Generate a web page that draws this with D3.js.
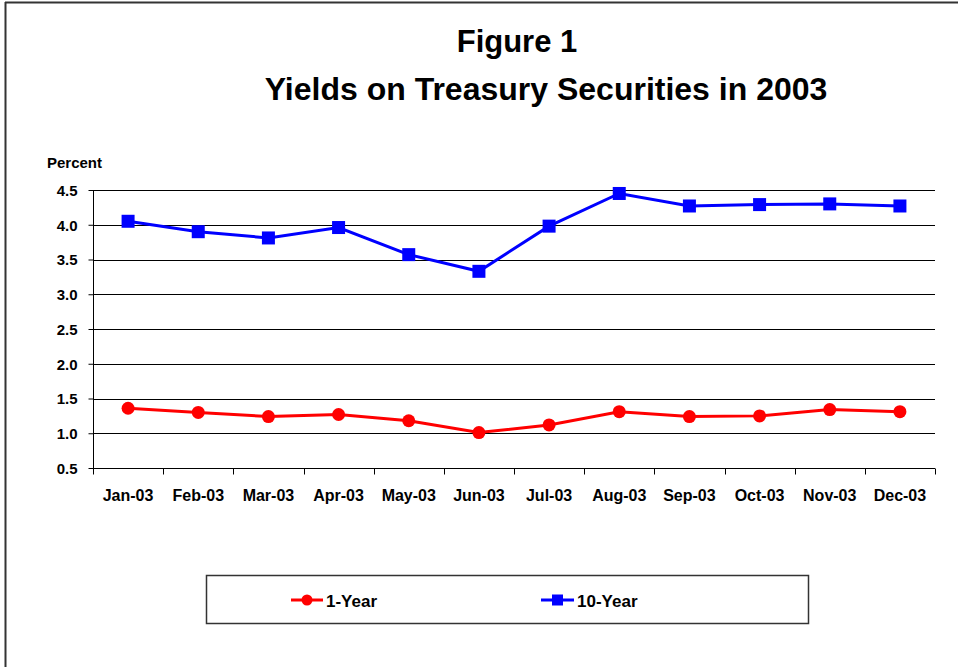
<!DOCTYPE html>
<html>
<head>
<meta charset="utf-8">
<script src="https://cdn.jsdelivr.net/npm/d3@7"></script>
<style>
  body { margin: 0; background: #fff; }
  svg text { font-family: "Liberation Sans", Arial, sans-serif; font-weight: bold; fill: #000; }
</style>
</head>
<body>
<div id="chart"></div>
<script>
// data
var months = ["Jan-03", "Feb-03", "Mar-03", "Apr-03", "May-03", "Jun-03",
              "Jul-03", "Aug-03", "Sep-03", "Oct-03", "Nov-03", "Dec-03"];
var oneYear = [1.36, 1.30, 1.24, 1.27, 1.18, 1.01, 1.12, 1.31, 1.24, 1.25, 1.34, 1.31];
var tenYear = [4.05, 3.90, 3.81, 3.96, 3.57, 3.33, 3.98, 4.45, 4.27, 4.29, 4.30, 4.27];
var yTicks = [0.5, 1.0, 1.5, 2.0, 2.5, 3.0, 3.5, 4.0, 4.5];

var W = 958, H = 667;
var svg = d3.select("#chart").append("svg").attr("width", W).attr("height", H);

// outer frame (top and left edges visible)
svg.append("line").attr("x1", 5).attr("x2", W).attr("y1", 2.5).attr("y2", 2.5)
  .attr("stroke", "#333").attr("stroke-width", 2);
svg.append("line").attr("x1", 5.5).attr("x2", 5.5).attr("y1", 2).attr("y2", H)
  .attr("stroke", "#333").attr("stroke-width", 2);

// titles
svg.append("text").attr("x", 517).attr("y", 52).attr("text-anchor", "middle")
  .style("font-size", "31px").text("Figure 1");
svg.append("text").attr("x", 546).attr("y", 100).attr("text-anchor", "middle")
  .style("font-size", "32px").text("Yields on Treasury Securities in 2003");

var pL = 93, pR = 935, pT = 190, pB = 468;

var x = d3.scaleBand().domain(months).range([pL, pR]);
var y = d3.scaleLinear().domain([0.5, 4.5]).range([pB, pT]);

// gridlines
svg.append("g").selectAll("line").data(yTicks.slice(1)).enter().append("line")
  .attr("x1", pL).attr("x2", pR)
  .attr("y1", function(d) { return Math.round(y(d)) + 0.5; })
  .attr("y2", function(d) { return Math.round(y(d)) + 0.5; })
  .attr("stroke", "#000").attr("stroke-width", 1);

// y axis
var yAxis = svg.append("g").attr("transform", "translate(" + (pL + 0.5) + ",0)")
  .call(d3.axisLeft(y).tickValues(yTicks).tickFormat(d3.format(".1f")).tickSize(5).tickPadding(6));
yAxis.select(".domain").attr("stroke", "#000").attr("d", "M0," + pT + "V" + (pB + 6));
yAxis.selectAll(".tick line").attr("stroke", "#000");
yAxis.selectAll(".tick text").style("font-size", "15px").attr("dy", "0.35em").attr("x", -16);

// x axis: ticks at band boundaries
var xg = svg.append("g").attr("transform", "translate(0," + (pB + 0.5) + ")");
xg.append("line").attr("x1", pL).attr("x2", pR).attr("stroke", "#000");
var bounds = months.map(function(m) { return x(m); }).concat([pR]);
xg.selectAll(".tk").data(bounds).enter().append("line")
  .attr("x1", function(d) { return Math.round(d) + 0.5; })
  .attr("x2", function(d) { return Math.round(d) + 0.5; })
  .attr("y1", 0).attr("y2", 6).attr("stroke", "#000");
xg.selectAll(".lbl").data(months).enter().append("text")
  .attr("x", function(d) { return x(d) + x.bandwidth() / 2; })
  .attr("y", 32).attr("text-anchor", "middle").style("font-size", "16px")
  .text(function(d) { return d; });

svg.append("text").attr("x", 47).attr("y", 168).style("font-size", "15px").text("Percent");

var cx = function(d, i) { return x(months[i]) + x.bandwidth() / 2; };
var line = d3.line().x(cx).y(function(d) { return y(d); });

// 1-Year series
svg.append("path").datum(oneYear).attr("d", line)
  .attr("fill", "none").attr("stroke", "#ff0000").attr("stroke-width", 3);
svg.append("g").selectAll("circle").data(oneYear).enter().append("circle")
  .attr("cx", cx).attr("cy", function(d) { return y(d); })
  .attr("r", 6.5).attr("fill", "#ff0000");

// 10-Year series
svg.append("path").datum(tenYear).attr("d", line)
  .attr("fill", "none").attr("stroke", "#0000ff").attr("stroke-width", 3);
svg.append("g").selectAll("rect").data(tenYear).enter().append("rect")
  .attr("x", function(d, i) { return cx(d, i) - 6.5; })
  .attr("y", function(d) { return y(d) - 6.5; })
  .attr("width", 13).attr("height", 13).attr("fill", "#0000ff");

// legend
var lg = svg.append("g");
lg.append("rect").attr("x", 206.5).attr("y", 575.5).attr("width", 602).attr("height", 48)
  .attr("fill", "#fff").attr("stroke", "#333").attr("stroke-width", 1.5);
lg.append("line").attr("x1", 291).attr("x2", 323).attr("y1", 600).attr("y2", 600)
  .attr("stroke", "#ff0000").attr("stroke-width", 3);
lg.append("circle").attr("cx", 307).attr("cy", 600).attr("r", 5.5).attr("fill", "#ff0000");
lg.append("text").attr("x", 326).attr("y", 607).style("font-size", "17px").text("1-Year");
lg.append("line").attr("x1", 541).attr("x2", 574).attr("y1", 600).attr("y2", 600)
  .attr("stroke", "#0000ff").attr("stroke-width", 3);
lg.append("rect").attr("x", 552).attr("y", 594.5).attr("width", 11).attr("height", 11).attr("fill", "#0000ff");
lg.append("text").attr("x", 577).attr("y", 607).style("font-size", "17px").text("10-Year");
</script>
</body>
</html>
